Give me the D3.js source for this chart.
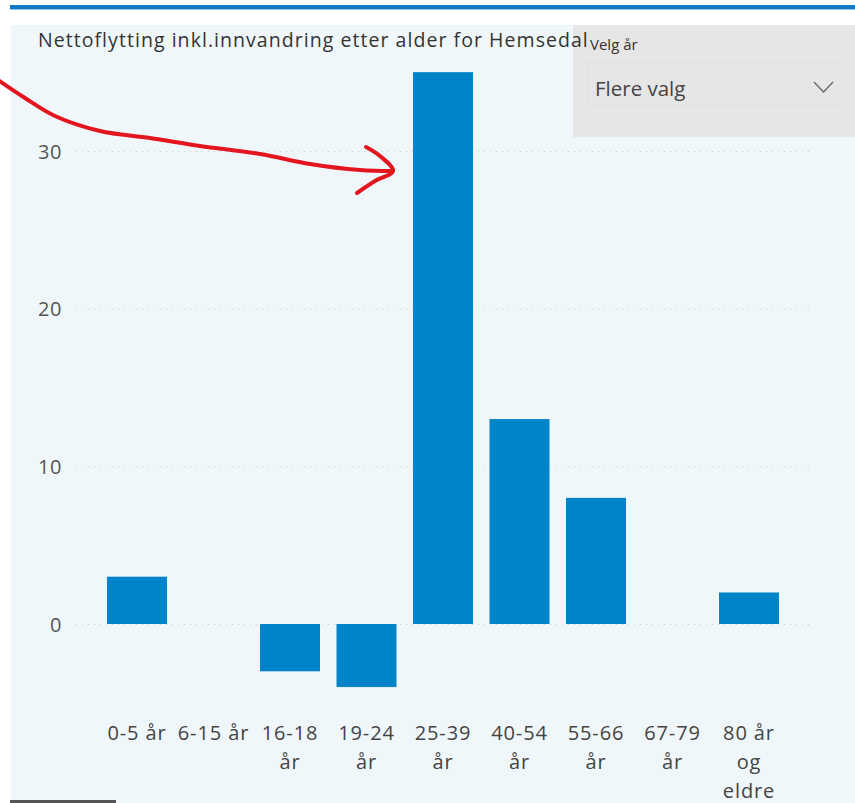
<!DOCTYPE html>
<html>
<head>
<meta charset="utf-8">
<script src="https://cdn.jsdelivr.net/npm/d3@7"></script>
<style>
  html, body { margin: 0; padding: 0; background: #ffffff; }
  svg { display: block; font-family: "Open Sans", "Noto Sans", sans-serif; }
</style>
</head>
<body>
<svg id="chart" width="855" height="803"></svg>
<script>
// Net migration (incl. immigration) by age group, Hemsedal
const categories = ["0-5 år", "6-15 år", "16-18 år", "19-24 år", "25-39 år", "40-54 år", "55-66 år", "67-79 år", "80 år og eldre"];
const values = [3, 0, -3, -4, 35, 13, 8, 0, 2];
const yTicks = [0, 10, 20, 30];

const title = "Nettoflytting inkl.innvandring etter alder for Hemsedal";
const slicerLabel = "Velg år";
const slicerValue = "Flere valg";

const svg = d3.select("#chart");
const W = 855, H = 803;
const FONT = "'Open Sans', 'Noto Sans', sans-serif";

// page / card background
svg.append("rect").attr("x", 0).attr("y", 0).attr("width", W).attr("height", H).attr("fill", "#ffffff");
svg.append("rect").attr("x", 11).attr("y", 25).attr("width", W - 11).attr("height", H - 25).attr("fill", "#f0f7fa");
// top accent line
svg.append("rect").attr("x", 10).attr("y", 5).attr("width", W - 10).attr("height", 4).attr("fill", "#1479c4");
svg.append("rect").attr("x", 10).attr("y", 9).attr("width", W - 10).attr("height", 1).attr("fill", "#8cc3ea");
// bottom-left scrollbar stub
svg.append("rect").attr("x", 10).attr("y", 800).attr("width", 106).attr("height", 3).attr("fill", "#555555");

// scales
const x = d3.scaleBand().domain(categories).range([98.75, 787.25]).paddingInner(0.216).paddingOuter(0.108);
const y = d3.scaleLinear().domain([0, 30]).range([624, 151]);

// gridlines
const gridX0 = 76, gridX1 = 810;
svg.append("g").selectAll("line").data(yTicks).join("line")
  .attr("x1", gridX0).attr("x2", gridX1)
  .attr("y1", d => y(d) + 0.5).attr("y2", d => y(d) + 0.5)
  .attr("stroke", "#c8cdd0").attr("stroke-width", 1).attr("stroke-dasharray", "1,5");

// y axis labels
const yAxis = d3.axisLeft(y).tickValues(yTicks).tickSize(0).tickPadding(0).tickFormat(d3.format("d"));
const gy = svg.append("g").attr("transform", "translate(62,0)").call(yAxis);
gy.select(".domain").remove();
gy.selectAll("text").attr("fill", "#555").attr("font-size", "20px")
  .attr("font-family", FONT).attr("letter-spacing", "0.6px").attr("dy", "0.36em");

// bars
svg.append("g").selectAll("rect").data(categories.map((c, i) => ({ c, v: values[i] }))).join("rect")
  .filter(d => d.v !== 0)
  .attr("x", d => x(d.c))
  .attr("width", x.bandwidth())
  .attr("y", d => Math.min(y(d.v), y(0)))
  .attr("height", d => Math.abs(y(d.v) - y(0)))
  .attr("fill", "#0084c9");

// x axis labels (wrapped to the band)
const xAxis = d3.axisBottom(x).tickSize(0).tickPadding(0);
const gx = svg.append("g").attr("transform", "translate(0,726)").call(xAxis);
gx.select(".domain").remove();
gx.selectAll("text")
  .attr("fill", "#444").attr("font-size", "20px").attr("font-family", FONT)
  .attr("letter-spacing", "0.9px")
  .each(function (d) {
    const t = d3.select(this);
    const words = d.split(" ");
    const maxW = x.step() - 2;
    const lines = [];
    let cur = [];
    t.text(null);
    const probe = t.append("tspan");
    words.forEach(w => {
      const trial = cur.concat([w]).join(" ");
      probe.text(trial);
      if (probe.node().getComputedTextLength() > maxW && cur.length) {
        lines.push(cur.join(" "));
        cur = [w];
      } else {
        cur.push(w);
      }
    });
    lines.push(cur.join(" "));
    probe.remove();
    lines.forEach((ln, i) => {
      t.append("tspan").attr("x", 0).attr("dy", i === 0 ? "0.71em" : "29px").text(ln);
    });
  })
  .attr("dy", null);

// slicer panel
svg.append("rect").attr("x", 573).attr("y", 25).attr("width", W - 573).attr("height", 112).attr("fill", "#e6e6e6");
svg.append("rect").attr("x", 587).attr("y", 63).attr("width", 253).attr("height", 42)
  .attr("fill", "none").attr("stroke", "#e0e0e0").attr("stroke-width", 1);
svg.append("text").attr("x", 590).attr("y", 50).attr("fill", "#333")
  .attr("font-size", "15px").attr("font-family", FONT).text(slicerLabel);
svg.append("text").attr("x", 595).attr("y", 96).attr("fill", "#444")
  .attr("font-size", "20.5px").attr("font-family", FONT).text(slicerValue);
svg.append("path").attr("d", "M814,82 L823.5,92 L833,82").attr("fill", "none")
  .attr("stroke", "#666").attr("stroke-width", 1.3);

// chart title (drawn above the slicer panel, which it overlaps)
svg.append("text").attr("x", 38).attr("y", 47).attr("fill", "#333")
  .attr("font-size", "19.5px").attr("letter-spacing", "1.05px").attr("font-family", FONT).text(title);

// hand-drawn red arrow annotation
const arrowPts = [[-2, 80], [25, 98], [55, 116], [100, 131], [150, 138], [200, 146], [260, 154], [310, 164], [360, 170], [393, 171]];
svg.append("path")
  .attr("d", d3.line().curve(d3.curveCatmullRom)(arrowPts))
  .attr("fill", "none").attr("stroke", "#e3161f").attr("stroke-width", 4).attr("stroke-linecap", "round");
svg.append("path")
  .attr("d", d3.line().curve(d3.curveCatmullRom)([[366, 147], [380, 156], [393, 171], [375, 181], [357, 193]]))
  .attr("fill", "none").attr("stroke", "#e3161f").attr("stroke-width", 4)
  .attr("stroke-linecap", "round").attr("stroke-linejoin", "round");
</script>
</body>
</html>
